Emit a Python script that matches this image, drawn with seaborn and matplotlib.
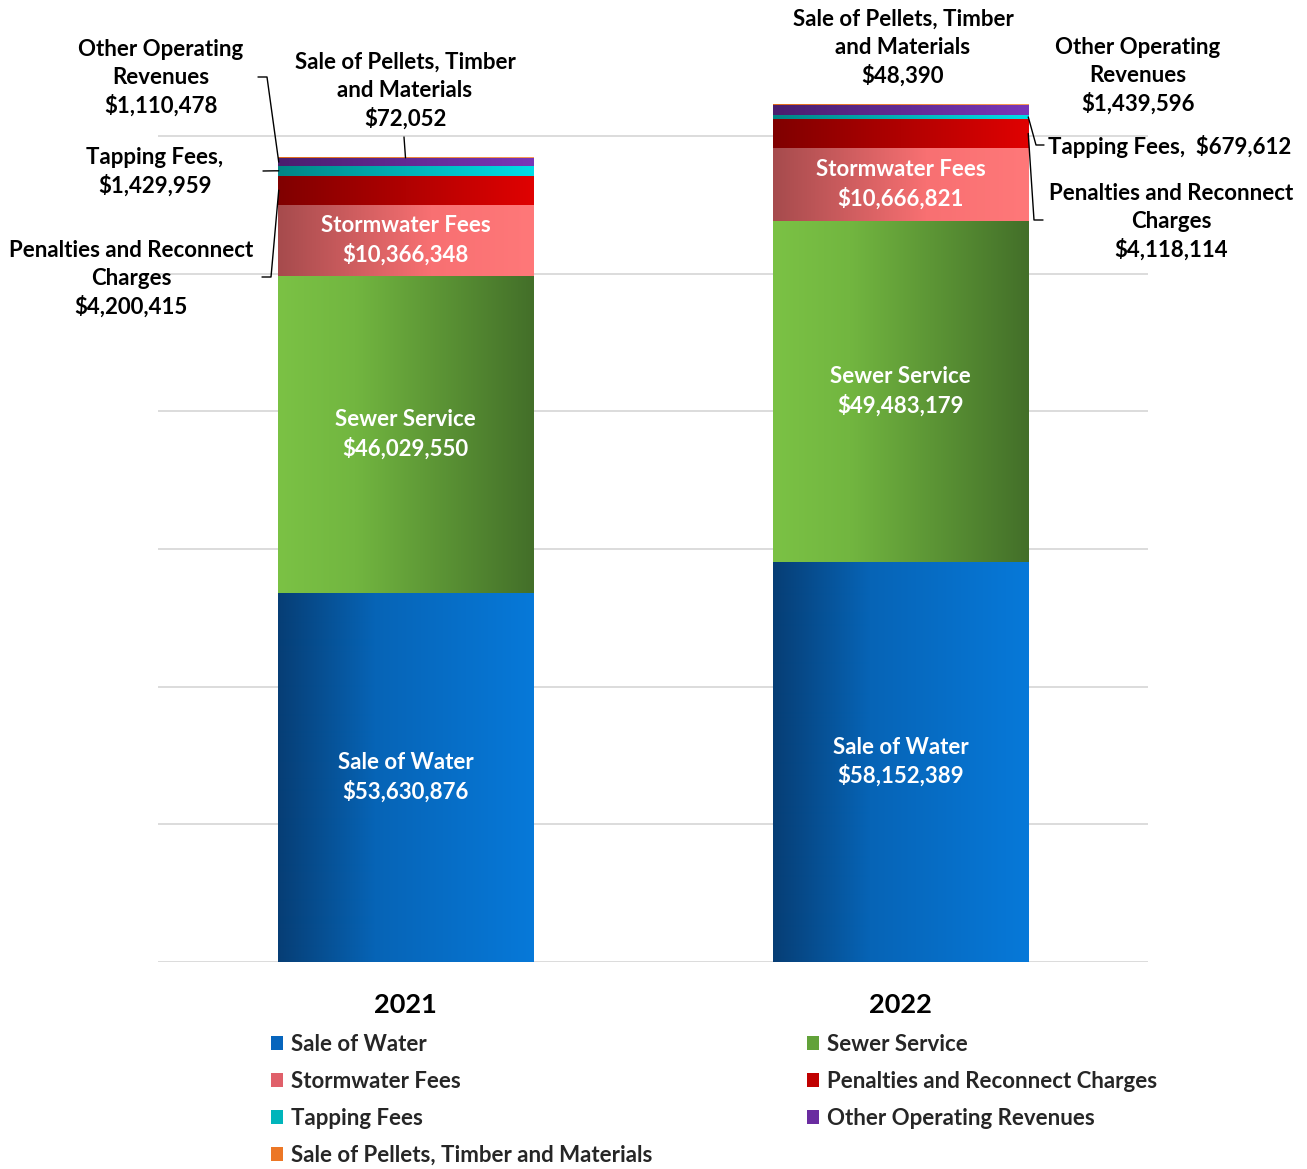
import numpy as np
import pandas as pd
import matplotlib
matplotlib.use("Agg")
import matplotlib.pyplot as plt
import seaborn as sns
from matplotlib.colors import LinearSegmentedColormap
from matplotlib.patches import Patch

# ---------------- data ----------------
years = ["2021", "2022"]
categories = ["Sale of Water", "Sewer Service", "Stormwater Fees",
              "Penalties and Reconnect Charges", "Tapping Fees",
              "Other Operating Revenues", "Sale of Pellets, Timber and Materials"]
sale_of_water = [53630876, 58152389]
sewer_service = [46029550, 49483179]
stormwater_fees = [10366348, 10666821]
penalties = [4200415, 4118114]
tapping_fees = [1429959, 679612]
other_revenues = [1110478, 1439596]
pellets = [72052, 48390]
grid_ticks = [0, 20e6, 40e6, 60e6, 80e6, 100e6, 120e6]

series = [sale_of_water, sewer_service, stormwater_fees, penalties,
          tapping_fees, other_revenues, pellets]

gradients = {
    "Sale of Water": [(0, "#063e75"), (0.38, "#0664b6"), (1, "#0779d9")],
    "Sewer Service": [(0, "#7bc245"), (0.3, "#72b640"), (1, "#436f29")],
    "Stormwater Fees": [(0, "#a64b4d"), (0.6, "#f87072"), (1, "#ff7879")],
    "Penalties and Reconnect Charges": [(0, "#800000"), (1, "#e00202")],
    "Tapping Fees": [(0, "#008585"), (1, "#00dee8")],
    "Other Operating Revenues": [(0, "#4a1e6e"), (1, "#7a36b8")],
    "Sale of Pellets, Timber and Materials": [(0, "#e06a1a"), (1, "#f89a55")],
}
legend_colors = {
    "Sale of Water": "#0665bd",
    "Sewer Service": "#62a23a",
    "Stormwater Fees": "#e0606a",
    "Penalties and Reconnect Charges": "#c00000",
    "Tapping Fees": "#00b5bb",
    "Other Operating Revenues": "#6a2ca0",
    "Sale of Pellets, Timber and Materials": "#ec7726",
}

W, H = 1307, 1169
FS = 16
sns.set_style("white")
plt.rcParams["font.family"] = ["Lato", "DejaVu Sans"]
plt.rcParams["font.weight"] = "bold"

fig = plt.figure(figsize=(W / 100, H / 100), dpi=100)
px_per_unit = 826 / 120e6
ax = fig.add_axes([158 / W, (H - 962) / H, 990 / W, 962 / H])
ymax = 962 / px_per_unit

df = pd.DataFrame({"year": years})
cum = np.zeros(len(years))
bottoms, tops = [], []
for s in series:
    bottoms.append(cum.copy())
    cum = cum + np.array(s, dtype=float)
    tops.append(cum.copy())

bar_w = 255 / 494
# overlapping cumulative bars drawn from the top layer down
for i in reversed(range(len(series))):
    df["top"] = tops[i]
    sns.barplot(data=df, x="year", y="top", color=legend_colors[categories[i]],
                width=bar_w, errorbar=None, ax=ax, linewidth=0, zorder=2)

bars = ax.patches[:len(years)]
xs = [(p.get_x(), p.get_x() + p.get_width()) for p in bars]

# gradient fills
for i, cat in enumerate(categories):
    cmap = LinearSegmentedColormap.from_list(cat, gradients[cat])
    img = cmap(np.linspace(0, 1, 256))[None, :, :]
    for j in range(len(years)):
        ax.imshow(img, extent=[xs[j][0], xs[j][1], bottoms[i][j], tops[i][j]],
                  aspect="auto", zorder=3, interpolation="bilinear")

ax.set_xlim(-0.5, 1.5)
ax.set_ylim(0, ymax)
ax.set_yticks(grid_ticks)
ax.set_yticklabels([])
ax.yaxis.grid(True, color="#d9d9d9", linewidth=1.3, zorder=0)
ax.set_axisbelow(True)
for sp in ax.spines.values():
    sp.set_visible(False)
ax.set_xticks(range(len(years)))
ax.set_xticklabels(years, fontsize=19.5, fontweight="bold", color="black")
ax.tick_params(axis="both", length=0)
ax.tick_params(axis="x", pad=22)
ax.set_xlabel("")
ax.set_ylabel("")

# inside labels
inside = [0, 1, 2]
for i in inside:
    for j in range(len(years)):
        mid = (bottoms[i][j] + tops[i][j]) / 2
        ax.text(j, mid, f"{categories[i]}\n${series[i][j]:,.0f}", ha="center",
                va="center", color="white", fontsize=FS, fontweight="bold",
                zorder=5, linespacing=1.38)

def fig_text(px, py, s, ha="center"):
    fig.text(px / W, 1 - py / H, s, ha=ha, va="center", fontsize=FS,
             fontweight="bold", color="black", linespacing=1.38)

def data_to_px(x, y):
    dx, dy = ax.transData.transform((x, y))
    return dx, H - dy

def leader(points):
    xs_, ys_ = zip(*points)
    fig.add_artist(plt.Line2D([p / W for p in xs_], [1 - p / H for p in ys_],
                              color="black", linewidth=1.0))

def seg_mid(i, j):
    return (bottoms[i][j] + tops[i][j]) / 2

# 2021 outside labels
fig_text(161, 78, f"Other Operating\nRevenues\n${other_revenues[0]:,.0f}")
fig_text(155, 172, f"Tapping Fees,\n${tapping_fees[0]:,.0f}")
fig_text(131, 279, f"Penalties and Reconnect\nCharges\n${penalties[0]:,.0f}")
fig_text(405, 91, f"Sale of Pellets, Timber\nand Materials\n${pellets[0]:,.0f}")

bx, by = data_to_px(xs[0][0], seg_mid(5, 0))
leader([(258, 77), (267, 77), (bx + 1, by)])
bx, by = data_to_px(xs[0][0], seg_mid(4, 0))
leader([(263, 171), (275, by), (bx + 1, by)])
bx, by = data_to_px(xs[0][0], seg_mid(3, 0))
leader([(262, 277), (271, 277), (bx + 1, by)])
bx, by = data_to_px(0, tops[6][0])
leader([(404, 137), (bx, by)])

# 2022 outside labels
fig_text(903, 48, f"Sale of Pellets, Timber\nand Materials\n${pellets[1]:,.0f}")
fig_text(1138, 76, f"Other Operating\nRevenues\n${other_revenues[1]:,.0f}")
fig_text(1048, 146, f"Tapping Fees,  ${tapping_fees[1]:,.0f}", ha="left")
fig_text(1171, 222, f"Penalties and Reconnect\nCharges\n${penalties[1]:,.0f}")

bx, by = data_to_px(xs[1][1], seg_mid(4, 1))
leader([(bx, by), (1036, 145), (1044, 145)])
bx, by = data_to_px(xs[1][1], seg_mid(3, 1))
leader([(bx, by), (1034, 220), (1043, 220)])

# legend
def handles(names):
    return [Patch(facecolor=legend_colors[n], edgecolor="none", label=n) for n in names]

leg_kw = dict(frameon=False, handlelength=0.55, handleheight=0.55,
              handletextpad=0.35, labelspacing=0.72, borderpad=0, borderaxespad=0,
              loc="upper left", prop={"weight": "bold", "size": FS})
col1 = [categories[0], categories[2], categories[4], categories[6]]
col2 = [categories[1], categories[3], categories[5]]
leg1 = fig.legend(handles=handles(col1), bbox_to_anchor=(271 / W, 1 - 1034 / H), **leg_kw)
leg2 = fig.legend(handles=handles(col2), bbox_to_anchor=(807 / W, 1 - 1034 / H), **leg_kw)

fig.savefig("out.png", dpi=100, facecolor="white")
